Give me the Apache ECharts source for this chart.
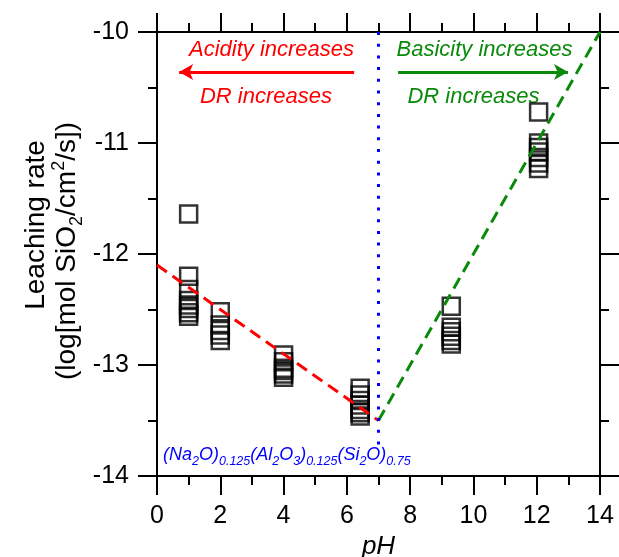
<!DOCTYPE html>
<html>
<head>
<meta charset="utf-8">
<script src="https://cdn.jsdelivr.net/npm/echarts@6/dist/echarts.min.js"></script>
<style>html,body{margin:0;padding:0;background:#fff}#c{width:619px;height:557px}</style>
</head>
<body>
<div id="c"></div>
<script>
// ---- data ----
var xTicks = [0, 2, 4, 6, 8, 10, 12, 14];
var yTicks = [-14, -13, -12, -11, -10];
var clusterPH = [1.0, 2.0, 4.0, 6.42, 9.3, 12.06];
var rates_pH1  = [-11.64, -12.20, -12.32, -12.42, -12.46, -12.49, -12.53, -12.56];
var rates_pH2  = [-12.52, -12.64, -12.69, -12.73, -12.78];
var rates_pH4  = [-12.91, -12.97, -13.03, -13.05, -13.08, -13.11];
var rates_pH64 = [-13.21, -13.27, -13.32, -13.36, -13.40, -13.43, -13.46];
var rates_pH93 = [-12.47, -12.66, -12.70, -12.74, -12.78, -12.81];
var rates_pH12 = [-10.72, -11.00, -11.04, -11.08, -11.13, -11.18, -11.23];
var acidFitPH = [0, 7];
var acidFitRate = [-12.1, -13.5];
var baseFitPH = [7, 14];
var baseFitRate = [-13.5, -10.0];
var neutralPH = 7;
var neutralSpan = [-10.0, -13.75];
var acidArrowPH = [6.23, 0.70];
var baseArrowPH = [7.62, 12.99];
var arrowRate = -10.36;

var clusters = [rates_pH1, rates_pH2, rates_pH4, rates_pH64, rates_pH93, rates_pH12];
var scatterData = [];
clusters.forEach(function (arr, i) {
  arr.forEach(function (v) { scatterData.push([clusterPH[i], v]); });
});
function pairs(xs, ys) { return xs.map(function (x, i) { return [x, ys[i]]; }); }

var FONT = '"Liberation Sans", Arial, Helvetica, sans-serif';
var RED = '#ff0000', GREEN = '#0a8a0a', BLUE = '#0000ff';

function mkAxis(pos, isX, showLabel) {
  return {
    type: 'value',
    position: pos,
    min: isX ? 0 : -14,
    max: isX ? 14 : -10,
    interval: isX ? 2 : 1,
    axisLine: { show: true, onZero: false, lineStyle: { color: '#000', width: 2 } },
    axisTick: { show: true, inside: false, length: 19, lineStyle: { color: '#000', width: 2 } },
    minorTick: { show: true, splitNumber: 2, length: 9, lineStyle: { color: '#000', width: 2 } },
    splitLine: { show: false },
    minorSplitLine: { show: false },
    axisLabel: { show: showLabel, color: '#000', fontSize: 25, fontFamily: FONT, margin: isX ? 28 : 28 }
  };
}

var xBottom = mkAxis('bottom', true, true);
xBottom.name = 'pH';
xBottom.nameLocation = 'middle';
xBottom.nameGap = 57;
xBottom.nameTextStyle = { fontSize: 26, fontStyle: 'italic', fontFamily: FONT, color: '#000' };

var chart = echarts.init(document.getElementById('c'), null, { renderer: 'canvas' });
chart.setOption({
  animation: false,
  backgroundColor: '#fff',
  grid: { left: 157, top: 32, width: 443, height: 444, containLabel: false, outerBoundsMode: 'none' },
  xAxis: [xBottom, mkAxis('top', true, false)],
  yAxis: [mkAxis('left', false, true), mkAxis('right', false, false)],
  series: [
    {
      type: 'scatter',
      data: scatterData,
      symbol: 'rect',
      symbolSize: 17,
      itemStyle: { color: 'rgba(0,0,0,0)', borderColor: '#000', borderWidth: 2.5 },
      z: 2
    },
    {
      type: 'line',
      data: pairs(acidFitPH, acidFitRate),
      symbol: 'none',
      lineStyle: { color: RED, width: 3, type: [12, 7] },
      z: 3,
      markLine: {
        silent: true,
        symbol: ['none', 'arrow'],
        symbolSize: [12, 14],
        label: { show: false },
        lineStyle: { color: RED, width: 3, type: 'solid' },
        data: [[{ coord: [acidArrowPH[0], arrowRate] }, { coord: [acidArrowPH[1], arrowRate] }]]
      }
    },
    {
      type: 'line',
      data: pairs(baseFitPH, baseFitRate),
      symbol: 'none',
      lineStyle: { color: GREEN, width: 3, type: [12, 7] },
      z: 3,
      markLine: {
        silent: true,
        symbol: ['none', 'arrow'],
        symbolSize: [12, 14],
        label: { show: false },
        lineStyle: { color: GREEN, width: 3, type: 'solid' },
        data: [[{ coord: [baseArrowPH[0], arrowRate] }, { coord: [baseArrowPH[1], arrowRate] }]]
      }
    },
    {
      type: 'line',
      data: [[neutralPH, neutralSpan[0]], [neutralPH, neutralSpan[1]]],
      symbol: 'none',
      lineStyle: { color: BLUE, width: 3, type: [3, 8.7], cap: 'butt' },
      z: 3
    }
  ],
  graphic: [
    { type: 'text', x: 36, y: 225, rotation: Math.PI / 2,
      style: { text: 'Leaching rate', fontSize: 28, fontFamily: FONT, fill: '#000', align: 'center', verticalAlign: 'middle' } },
    { type: 'text', x: 67, y: 251, rotation: Math.PI / 2,
      style: {
        text: '{n|(log[mol SiO}{sub|2}{n|/cm}{sup|2}{n|/s])}',
        align: 'center', verticalAlign: 'middle', fontSize: 28, fontFamily: FONT, fill: '#000',
        rich: {
          n: { fontSize: 28, fontFamily: FONT, fill: '#000', lineHeight: 38, verticalAlign: 'middle' },
          sub: { fontSize: 18, fontFamily: FONT, fill: '#000', lineHeight: 18, verticalAlign: 'bottom' },
          sup: { fontSize: 18, fontFamily: FONT, fill: '#000', lineHeight: 21, padding: [2, 0, 0, 0], verticalAlign: 'top' }
        }
      } },
    { type: 'text', x: 271.5, y: 49.5,
      style: { text: 'Acidity increases', fontSize: 22, fontStyle: 'italic', fontFamily: FONT, fill: RED, align: 'center', verticalAlign: 'middle' } },
    { type: 'text', x: 266, y: 96.5,
      style: { text: 'DR increases', fontSize: 22, fontStyle: 'italic', fontFamily: FONT, fill: RED, align: 'center', verticalAlign: 'middle' } },
    { type: 'text', x: 484.5, y: 49.5,
      style: { text: 'Basicity increases', fontSize: 22, fontStyle: 'italic', fontFamily: FONT, fill: GREEN, align: 'center', verticalAlign: 'middle' } },
    { type: 'text', x: 473.5, y: 96.5,
      style: { text: 'DR increases', fontSize: 22, fontStyle: 'italic', fontFamily: FONT, fill: GREEN, align: 'center', verticalAlign: 'middle' } },
    { type: 'text', x: 163, y: 455,
      style: {
        text: '{m|(Na}{s|2}{m|O)}{s|0.125}{m|(Al}{s|2}{m|O}{s|3}{m|)}{s|0.125}{m|(Si}{s|2}{m|O)}{s|0.75}',
        align: 'left', verticalAlign: 'middle', fill: BLUE,
        rich: {
          m: { fontSize: 18, fontStyle: 'italic', fontFamily: FONT, fill: BLUE, lineHeight: 26, verticalAlign: 'middle' },
          s: { fontSize: 12.5, fontStyle: 'italic', fontFamily: FONT, fill: BLUE, lineHeight: 13, verticalAlign: 'bottom' }
        }
      } }
  ]
});
</script>
</body>
</html>
